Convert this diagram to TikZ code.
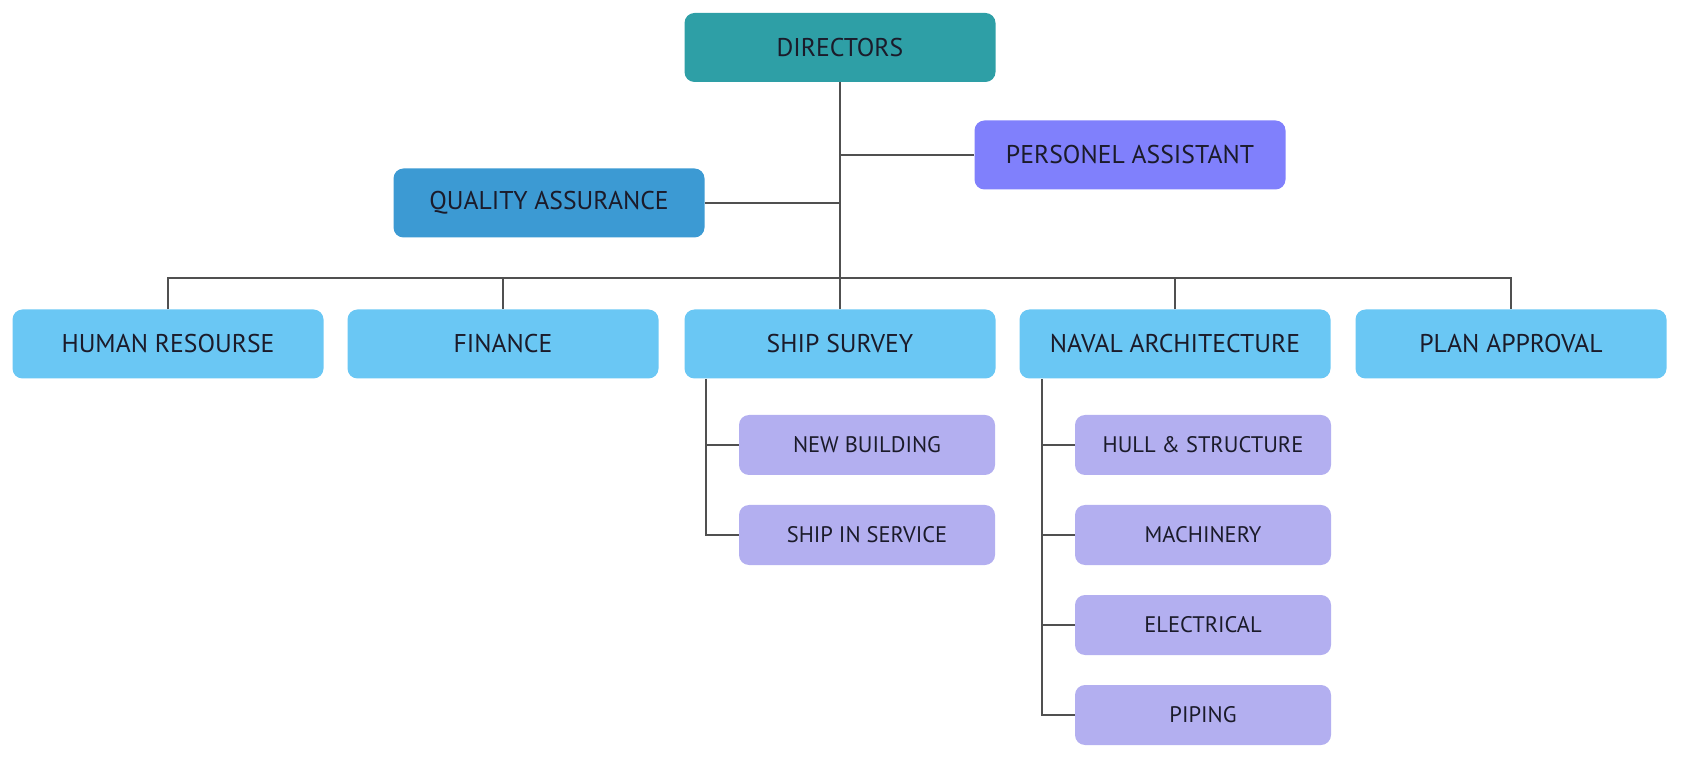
\documentclass[tikz,border=0pt]{standalone}
\usepackage{fontspec}
\setmainfont{PT Sans}
\usepackage{xcolor}
\usepackage{tikz}
\usetikzlibrary{positioning,calc}

\definecolor{dircol}{HTML}{2E9FA6}
\definecolor{pacol}{HTML}{8080FC}
\definecolor{qacol}{HTML}{3C9AD3}
\definecolor{deptcol}{HTML}{6AC7F4}
\definecolor{subcol}{HTML}{B3AFF0}
\definecolor{linecol}{HTML}{505050}
\definecolor{txtcol}{HTML}{1B1B2A}

\tikzset{
  box/.style={rounded corners=0.2cm,minimum width=6.22cm,minimum height=1.38cm,
    text=txtcol,font=\fontsize{14.6}{16}\selectfont,inner sep=0pt},
  subbox/.style={box,minimum width=5.12cm,minimum height=1.2cm,
    font=\fontsize{12.8}{14}\selectfont,fill=subcol},
  dept/.style={box,fill=deptcol},
  link/.style={draw=linecol,line width=0.9pt}
}

\begin{document}
\begin{tikzpicture}
  \useasboundingbox (0,0) rectangle (33.84,15.24);
  % 上位
  \node[box,fill=dircol] (dir) at (16.8,14.29) {DIRECTORS};
  \node[box,fill=pacol] (pa) at (22.6,12.14) {PERSONEL ASSISTANT};
  \node[box,fill=qacol] (qa) at (10.98,11.18) {QUALITY ASSURANCE};
  % 部門
  \node[dept] (hr) at (3.36,8.36) {HUMAN RESOURSE};
  \node[dept] (fin) at (10.06,8.36) {FINANCE};
  \node[dept] (ss) at (16.8,8.36) {SHIP SURVEY};
  \node[dept] (na) at (23.5,8.36) {NAVAL ARCHITECTURE};
  \node[dept] (pap) at (30.22,8.36) {PLAN APPROVAL};
  % 下位
  \node[subbox] (nb) at (17.34,6.34) {NEW BUILDING};
  \node[subbox] (sis) at (17.34,4.54) {SHIP IN SERVICE};
  \node[subbox] (hull) at (24.06,6.34) {HULL \& STRUCTURE};
  \node[subbox] (mach) at (24.06,4.54) {MACHINERY};
  \node[subbox] (elec) at (24.06,2.74) {ELECTRICAL};
  \node[subbox] (pip) at (24.06,0.94) {PIPING};

  % 幹線
  \coordinate (bus) at (16.8,9.68);
  \draw[link] (dir.south) -- (bus);
  \draw[link] (pa.west) -- (pa.west -| dir.south);
  \draw[link] (qa.east) -- (qa.east -| dir.south);
  \draw[link] (hr.north) |- (bus) -| (pap.north);
  \draw[link] (fin.north) -- (fin.north |- bus);
  \draw[link] (ss.north) -- (bus);
  \draw[link] (na.north) -- (na.north |- bus);
  % 枝
  \coordinate (ssx) at ($(ss.south west)+(0.44,0)$);
  \coordinate (nax) at ($(na.south west)+(0.46,0)$);
  \draw[link] (ssx) |- (sis.west);
  \draw[link] (nb.west) -- (nb.west -| ssx);
  \draw[link] (nax) |- (pip.west);
  \foreach \n in {hull,mach,elec}
    \draw[link] (\n.west) -- (\n.west -| nax);
\end{tikzpicture}
\end{document}
